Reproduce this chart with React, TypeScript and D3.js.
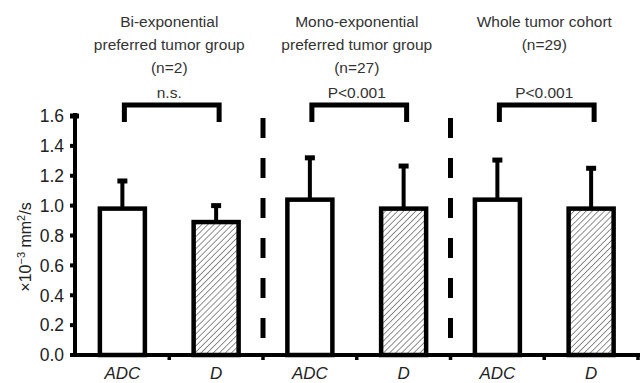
import { useEffect, useRef } from 'react';
import * as d3 from 'd3';

// bars: ADC / D per group
const categories = ['ADC', 'D', 'ADC', 'D', 'ADC', 'D'];
const means = [0.98, 0.89, 1.04, 0.98, 1.04, 0.98];
const upperErr = [1.165, 1.0, 1.32, 1.265, 1.305, 1.25];
const hatched = [false, true, false, true, false, true];

const groupTitles = [
  ['Bi-exponential', 'preferred tumor group', '(n=2)'],
  ['Mono-exponential', 'preferred tumor group', '(n=27)'],
  ['Whole tumor cohort', '(n=29)'],
];
const groupStats = ['n.s.', 'P<0.001', 'P<0.001'];
const yTicks = [0, 0.2, 0.4, 0.6, 0.8, 1.0, 1.2, 1.4, 1.6];

const W = 640, H = 383;

export default function App() {
  const svgRef = useRef<SVGSVGElement>(null);

  useEffect(() => {
    if (!svgRef.current) return;
    const svg = d3.select(svgRef.current);
    svg.selectAll('*').remove();

    const font = 'Liberation Sans, Arial, Helvetica, sans-serif';
    const x = d3.scaleBand<number>().domain(d3.range(categories.length)).range([75.5, 638]);
    const y = d3.scaleLinear().domain([0, 1.6]).range([355, 116]);
    const bw = x.bandwidth();
    const cx = (i: number) => (x(i) as number) + bw / 2;

    const defs = svg.append('defs');
    const pat = defs.append('pattern').attr('id', 'hatch').attr('patternUnits', 'userSpaceOnUse')
      .attr('width', 4.3).attr('height', 4.3).attr('patternTransform', 'rotate(45)');
    pat.append('line').attr('x1', 0).attr('y1', 0).attr('x2', 0).attr('y2', 4.3)
      .attr('stroke', '#333').attr('stroke-width', 1.1);

    // group separators
    [2, 4].forEach(i => {
      svg.append('line').attr('x1', x(i) as number).attr('x2', x(i) as number)
        .attr('y1', 118).attr('y2', 340)
        .attr('stroke', '#000').attr('stroke-width', 5).attr('stroke-dasharray', '20 20');
    });

    // bars
    const barW = bw * 0.48;
    categories.forEach((_, i) => {
      const c = cx(i);
      // error bar
      svg.append('line').attr('x1', c).attr('x2', c).attr('y1', y(means[i])).attr('y2', y(upperErr[i]))
        .attr('stroke', '#000').attr('stroke-width', 4);
      svg.append('line').attr('x1', c - 5).attr('x2', c + 5).attr('y1', y(upperErr[i])).attr('y2', y(upperErr[i]))
        .attr('stroke', '#000').attr('stroke-width', 5);
      svg.append('rect').attr('x', c - barW / 2).attr('y', y(means[i]))
        .attr('width', barW).attr('height', y(0) - y(means[i]))
        .attr('fill', hatched[i] ? 'url(#hatch)' : '#fff')
        .attr('stroke', '#000').attr('stroke-width', 4.5);
    });

    // axes
    svg.append('line').attr('x1', 75).attr('x2', 75).attr('y1', 113).attr('y2', 357)
      .attr('stroke', '#000').attr('stroke-width', 4);
    svg.append('line').attr('x1', 73).attr('x2', 640).attr('y1', y(0)).attr('y2', y(0))
      .attr('stroke', '#000').attr('stroke-width', 4);
    svg.append('rect').attr('x', 70).attr('y', y(1.6) - 2.5).attr('width', 9).attr('height', 5).attr('fill', '#000');

    yTicks.forEach(t => {
      svg.append('line').attr('x1', 70).attr('x2', 75).attr('y1', y(t)).attr('y2', y(t))
        .attr('stroke', '#000').attr('stroke-width', 4);
      svg.append('text').attr('x', 64).attr('y', y(t)).attr('dy', '0.36em').attr('text-anchor', 'end')
        .attr('font-family', font).attr('font-size', 17.5).attr('fill', '#222')
        .text(d3.format('.1f')(t));
    });

    // x ticks at band edges
    d3.range(1, categories.length + 1).forEach(i => {
      const xe = i < categories.length ? (x(i) as number) : (x(i - 1) as number) + bw;
      svg.append('line').attr('x1', xe).attr('x2', xe).attr('y1', y(0)).attr('y2', y(0) + 5)
        .attr('stroke', '#000').attr('stroke-width', 3.5);
    });

    categories.forEach((c, i) => {
      svg.append('text').attr('x', cx(i)).attr('y', 379).attr('text-anchor', 'middle')
        .attr('font-family', font).attr('font-size', 17).attr('font-style', 'italic').attr('fill', '#222')
        .text(c);
    });

    // y label
    const yl = svg.append('text').attr('transform', 'translate(31,247) rotate(-90)')
      .attr('text-anchor', 'middle').attr('font-family', font).attr('font-size', 16).attr('fill', '#222');
    yl.append('tspan').text('×10');
    yl.append('tspan').attr('dy', -6).attr('font-size', 11).text('−3');
    yl.append('tspan').attr('dy', 6).text(' mm');
    yl.append('tspan').attr('dy', -6).attr('font-size', 11).text('2');
    yl.append('tspan').attr('dy', 6).text('/s');

    // group titles, stats, brackets
    groupTitles.forEach((lines, g) => {
      const a = cx(g * 2), b = cx(g * 2 + 1);
      const mid = (a + b) / 2;
      lines.forEach((ln, k) => {
        svg.append('text').attr('x', mid).attr('y', 27 + k * 23).attr('text-anchor', 'middle')
          .attr('font-family', font).attr('font-size', 15.5).attr('fill', '#333').text(ln);
      });
      svg.append('text').attr('x', mid).attr('y', 98).attr('text-anchor', 'middle')
        .attr('font-family', font).attr('font-size', 15.5).attr('fill', '#333').text(groupStats[g]);
      svg.append('path')
        .attr('d', `M${a + 2},${y(1.56)}V${y(1.673)}H${b + 3}V${y(1.56)}`)
        .attr('fill', 'none').attr('stroke', '#000').attr('stroke-width', 5);
    });
  }, []);

  return (
    <svg ref={svgRef} width={W} height={H} viewBox={`0 0 ${W} ${H}`}
      style={{ position: 'absolute', left: 0, top: 0, background: '#fff' }} />
  );
}
